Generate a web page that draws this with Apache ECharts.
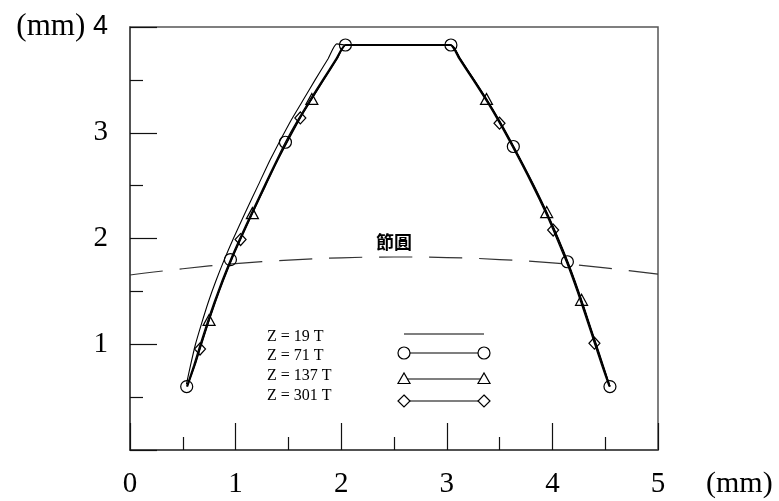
<!DOCTYPE html>
<html>
<head>
<meta charset="utf-8">
<script src="https://cdn.jsdelivr.net/npm/echarts@6/dist/echarts.min.js"></script>
<style>
  html, body { margin: 0; padding: 0; background: #fff; }
  #chart { width: 779px; height: 501px; }
</style>
</head>
<body>
<div id="chart"></div>
<script>
// Tooth profiles [x (mm), y (mm)], traced from root-left up the flank, across the tip, down the right flank
const z19Profile = [
  [0.534, 0.62], [0.573, 0.80], [0.620, 1.00], [0.679, 1.20], [0.742, 1.40], [0.814, 1.60],
  [0.893, 1.80], [0.979, 2.00], [1.094, 2.25], [1.212, 2.50], [1.330, 2.75], [1.515, 3.10],
  [1.634, 3.30], [1.753, 3.50], [1.876, 3.70], [1.957, 3.84], [2.040, 3.83],
  [3.039, 3.83], [3.125, 3.70], [3.257, 3.50], [3.385, 3.30], [3.503, 3.10], [3.630, 2.87],
  [3.720, 2.70], [3.822, 2.50], [3.942, 2.25], [4.052, 2.00], [4.142, 1.78], [4.209, 1.60],
  [4.279, 1.40], [4.345, 1.20], [4.411, 1.00], [4.477, 0.80], [4.545, 0.60]
];
const z71Profile = [
  [0.537, 0.60], [0.603, 0.80], [0.665, 1.00], [0.729, 1.20], [0.797, 1.40], [0.871, 1.60],
  [0.951, 1.80], [1.039, 2.00], [1.154, 2.25], [1.272, 2.50], [1.392, 2.75], [1.472, 2.91],
  [1.577, 3.10], [1.697, 3.30], [1.823, 3.50], [1.951, 3.70], [2.040, 3.83],
  [3.039, 3.83], [3.125, 3.70], [3.257, 3.50], [3.385, 3.30], [3.503, 3.10], [3.630, 2.87],
  [3.720, 2.70], [3.822, 2.50], [3.942, 2.25], [4.052, 2.00], [4.142, 1.78], [4.209, 1.60],
  [4.279, 1.40], [4.345, 1.20], [4.411, 1.00], [4.477, 0.80], [4.545, 0.60]
];
const z137Profile = [
  [0.540, 0.60], [0.612, 0.80], [0.674, 1.00], [0.749, 1.23], [0.806, 1.40], [0.880, 1.60],
  [0.960, 1.80], [1.048, 2.00], [1.159, 2.24], [1.281, 2.50], [1.401, 2.75], [1.586, 3.10],
  [1.722, 3.32], [1.832, 3.50], [1.960, 3.70], [2.045, 3.83],
  [3.040, 3.83], [3.128, 3.70], [3.260, 3.50], [3.376, 3.32], [3.507, 3.10], [3.634, 2.87],
  [3.724, 2.70], [3.826, 2.50], [3.946, 2.25], [4.056, 2.00], [4.146, 1.78], [4.213, 1.60],
  [4.276, 1.42], [4.349, 1.20], [4.415, 1.00], [4.481, 0.80], [4.545, 0.60]
];
const z301Profile = [
  [0.545, 0.60], [0.615, 0.80], [0.663, 0.955], [0.741, 1.20], [0.809, 1.40], [0.883, 1.60],
  [0.963, 1.80], [1.047, 1.99], [1.166, 2.25], [1.284, 2.50], [1.404, 2.75], [1.613, 3.14],
  [1.709, 3.30], [1.835, 3.50], [1.962, 3.70], [2.045, 3.83],
  [3.030, 3.83], [3.115, 3.70], [3.247, 3.50], [3.375, 3.30], [3.499, 3.09], [3.620, 2.87],
  [3.710, 2.70], [3.812, 2.50], [3.932, 2.25], [4.007, 2.08], [4.132, 1.78], [4.199, 1.60],
  [4.269, 1.40], [4.335, 1.20], [4.398, 1.01], [4.467, 0.80], [4.537, 0.60]
];

// Which profile points carry a marker
const z71Marks = [0, 6, 11, 16, 17, 22, 27, 33];
const z137Marks = [3, 8, 12, 19, 24, 28];
const z301Marks = [2, 7, 11, 20, 25, 30];

// Pitch circle (節圓)
const pitchX = [0, 0.5, 1, 1.5, 2, 2.5, 3, 3.5, 4, 4.5, 5];
const pitchY = [1.655, 1.714, 1.762, 1.796, 1.817, 1.825, 1.820, 1.801, 1.770, 1.722, 1.663];
const pitchLabelIndex = 5;
const pitchLabel = '節圓';

const legendNames = ['Z = 19 T', 'Z = 71 T', 'Z = 137 T', 'Z = 301 T'];

const SERIF = '"Liberation Serif", "Times New Roman", serif';
const chart = echarts.init(document.getElementById('chart'), null, { renderer: 'canvas' });

function markedSymbol(marks, shape) {
  const set = new Set(marks);
  return function (value, params) {
    return set.has(params.dataIndex) ? shape : 'none';
  };
}

function profileSeries(name, data, width, marks, shape, size) {
  return {
    name: name,
    type: 'line',
    data: data,
    smooth: 0.2,
    showSymbol: !!marks,
    symbol: marks ? markedSymbol(marks, shape) : 'none',
    symbolSize: size || 12,
    lineStyle: { color: '#000', width: width },
    itemStyle: { color: 'rgba(0,0,0,0)', borderColor: '#000', borderWidth: 1.2 },
    emphasis: { disabled: true },
    z: 3
  };
}

const pitchData = pitchX.map((x, i) => [x, pitchY[i]]);

const axisLineStyle = { color: '#444', width: 1.5 };
const tickStyle = { color: '#111', width: 1.2 };

// Legend block: names on the left, line samples on the right
const legendTextX = 267;
const legendTextY = [337, 356, 376, 396];
const sampleX1 = 404, sampleX2 = 484;
const sampleY = [334, 353, 379, 401];
const legendGraphics = [];
legendNames.forEach((t, i) => {
  legendGraphics.push({
    type: 'text',
    style: { x: legendTextX, y: legendTextY[i], text: t, font: '16px ' + SERIF, fill: '#000', align: 'left', verticalAlign: 'middle' }
  });
  legendGraphics.push({
    type: 'line',
    shape: { x1: sampleX1, y1: sampleY[i], x2: sampleX2, y2: sampleY[i] },
    style: { stroke: '#000', lineWidth: 1.1 }
  });
});
[sampleX1, sampleX2].forEach(x => {
  const yc = sampleY[1], yt = sampleY[2], yd = sampleY[3];
  legendGraphics.push({ type: 'circle', shape: { cx: x, cy: yc, r: 6 }, style: { fill: '#fff', stroke: '#000', lineWidth: 1.2 } });
  legendGraphics.push({ type: 'polygon', shape: { points: [[x - 6, yt + 4.5], [x + 6, yt + 4.5], [x, yt - 6]] }, style: { fill: '#fff', stroke: '#000', lineWidth: 1.2 } });
  legendGraphics.push({ type: 'polygon', shape: { points: [[x, yd - 6], [x + 6, yd], [x, yd + 6], [x - 6, yd]] }, style: { fill: '#fff', stroke: '#000', lineWidth: 1.2 } });
});
legendGraphics.push({
  type: 'text',
  style: { x: 706, y: 484, text: '(mm)', font: '30px ' + SERIF, fill: '#000', align: 'left', verticalAlign: 'middle' }
});

chart.setOption({
  animation: false,
  backgroundColor: '#fff',
  grid: {
    left: 130, right: 121, top: 27, bottom: 51,
    show: true, borderColor: '#555', borderWidth: 1.5,
    containLabel: false, outerBoundsMode: 'none'
  },
  xAxis: {
    type: 'value', min: 0, max: 5, interval: 1,
    axisLine: { show: true, onZero: false, lineStyle: axisLineStyle },
    axisTick: { show: true, inside: true, length: 27, lineStyle: tickStyle },
    minorTick: { show: true, splitNumber: 2, length: 13, lineStyle: tickStyle },
    splitLine: { show: false },
    axisLabel: { fontFamily: SERIF, fontSize: 29, color: '#000', margin: 20 }
  },
  yAxis: {
    type: 'value', min: 0, max: 4, interval: 1,
    axisLine: { show: true, onZero: false, lineStyle: axisLineStyle },
    axisTick: { show: true, inside: true, length: 27, lineStyle: tickStyle },
    minorTick: { show: true, splitNumber: 2, length: 13, lineStyle: tickStyle },
    splitLine: { show: false },
    axisLabel: {
      fontFamily: SERIF, fontSize: 29, color: '#000', margin: 22,
      formatter: v => v === 0 ? '' : (v === 4 ? '{u|(mm) }{s|4}' : String(v)),
      rich: {
        u: { fontFamily: SERIF, fontSize: 31, color: '#000' },
        s: { fontFamily: '"Liberation Sans", Arial, sans-serif', fontSize: 27, color: '#000' }
      }
    }
  },
  graphic: legendGraphics,
  series: [
    {
      name: pitchLabel,
      type: 'line',
      data: pitchData,
      smooth: true,
      symbol: 'none',
      lineStyle: { color: '#333', width: 1.2, type: [33, 17] },
      emphasis: { disabled: true },
      markPoint: {
        symbol: 'circle',
        symbolSize: 1,
        itemStyle: { color: 'rgba(0,0,0,0)' },
        label: {
          show: true,
          position: 'top',
          distance: 5,
          formatter: pitchLabel,
          fontFamily: '"Noto Sans CJK TC", "Noto Sans CJK SC", sans-serif',
          fontSize: 18,
          fontWeight: 'bold',
          color: '#000'
        },
        data: [{ coord: pitchData[pitchLabelIndex] }]
      },
      z: 2
    },
    profileSeries('Z = 19 T', z19Profile, 1.1, null),
    profileSeries('Z = 71 T', z71Profile, 1.3, z71Marks, 'circle', 12),
    profileSeries('Z = 137 T', z137Profile, 1.3, z137Marks, 'triangle', [12, 11]),
    profileSeries('Z = 301 T', z301Profile, 1.3, z301Marks, 'diamond', [11, 12])
  ]
});
</script>
</body>
</html>
